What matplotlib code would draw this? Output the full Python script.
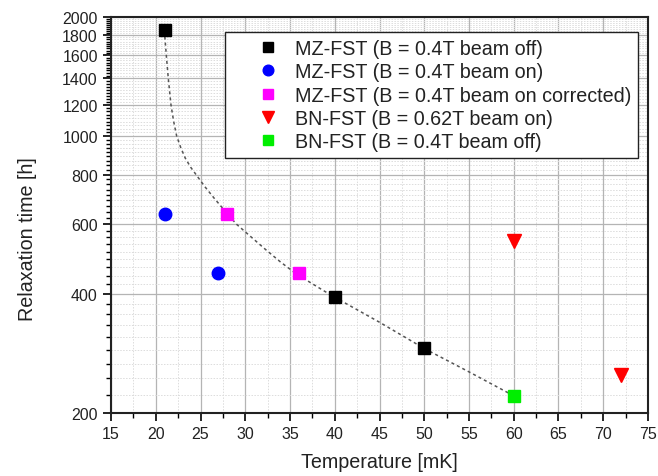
import numpy as np
import matplotlib
matplotlib.use("Agg")
import matplotlib.pyplot as plt
from matplotlib.ticker import FixedLocator, FixedFormatter, NullFormatter

plt.rcParams['font.family'] = ['Liberation Sans', 'DejaVu Sans']

# measured relaxation times
mz_off_T   = [21, 40, 50]
mz_off_tau = [1850, 392, 291]
mz_on_T    = [21, 27]
mz_on_tau  = [636, 451]
mz_cor_T   = [28, 36]
mz_cor_tau = [636, 451]
bn_on_T    = [60, 72]
bn_on_tau  = [545, 249]
bn_off_T   = [60]
bn_off_tau = [221]

# fit curve through the beam-off points
fit_T   = [21.0, 21.0, 21.18, 21.4, 21.7, 22.0, 22.34, 22.8, 23.3, 23.9, 24.5, 25.5,
           26.6, 27.8, 29.0, 30.6, 32.2, 33.9, 35.7, 38.7, 40.0, 45.0, 50.0, 55.0, 60.0]
fit_tau = [1850, 1800, 1600, 1400, 1200, 1090, 1000, 935, 880, 835, 800, 745,
           694, 645, 600, 558, 519, 482, 449, 408, 392, 339, 291, 254, 221]

labels = ["MZ-FST (B = 0.4T beam off)",
          "MZ-FST (B = 0.4T beam on)",
          "MZ-FST (B = 0.4T beam on corrected)",
          "BN-FST (B = 0.62T beam on)",
          "BN-FST (B = 0.4T beam off)"]

y_major = list(range(200, 2001, 200))

fig = plt.figure(figsize=(6.58, 4.77), dpi=100)
ax = fig.add_axes([0.1687, 0.1321, 0.8161, 0.8302])

ax.plot(fit_T, fit_tau, color='#555555', lw=1.1, ls=(0, (2, 2)), zorder=2)
ax.plot(mz_off_T, mz_off_tau, 's', color='black', ms=8, label=labels[0], zorder=3)
ax.plot(mz_on_T, mz_on_tau, 'o', color='#0000ff', ms=9, label=labels[1], zorder=3)
ax.plot(mz_cor_T, mz_cor_tau, 's', color='#ff00ff', ms=8, label=labels[2], zorder=3)
ax.plot(bn_on_T, bn_on_tau, 'v', color='#ff0000', ms=9.5, label=labels[3], zorder=3)
ax.plot(bn_off_T, bn_off_tau, 's', color='#00ee00', ms=8, label=labels[4], zorder=3)

ax.set_yscale('log')
ax.set_xlim(15, 75)
ax.set_ylim(200, 2000)

ax.xaxis.set_major_locator(FixedLocator(np.arange(15, 76, 5)))
ax.xaxis.set_minor_locator(FixedLocator(np.arange(17.5, 75, 5)))
ax.yaxis.set_major_locator(FixedLocator(y_major))
ax.yaxis.set_major_formatter(FixedFormatter([str(v) for v in y_major]))
minors = [a + k * 200 / 9 for a in y_major[:-1] for k in range(1, 9)]
ax.yaxis.set_minor_locator(FixedLocator(minors))
ax.yaxis.set_minor_formatter(NullFormatter())

ax.tick_params(which='major', direction='out', length=6, width=1.2, labelsize=11.5,
               colors='black', labelcolor='#222222', top=False, right=False)
ax.tick_params(which='minor', direction='out', length=3.5, width=1.0, top=False, right=False)

ax.grid(which='major', color='#b4b4b4', lw=0.9, ls='-', zorder=0)
ax.grid(which='minor', color='#dcdcdc', lw=0.7, ls=(0, (1.5, 1.5)), zorder=0)
ax.set_axisbelow(True)

for s in ax.spines.values():
    s.set_linewidth(1.5)
    s.set_color('#222222')

ax.set_xlabel("Temperature [mK]", fontsize=14.2, color='#222222', labelpad=8)
ax.set_ylabel("Relaxation time [h]", fontsize=14.2, color='#222222')
ax.yaxis.set_label_coords(-0.138, 0.442)

leg = ax.legend(loc='upper left', bbox_to_anchor=(0.2123, 0.962), borderaxespad=0,
                fontsize=14.2, numpoints=1, handlelength=3.66, handletextpad=-0.46,
                borderpad=0.35, labelspacing=0.22, fancybox=False, framealpha=1,
                markerscale=0.85)
leg.get_frame().set_edgecolor('#222222')
leg.get_frame().set_linewidth(1.0)
for t in leg.get_texts():
    t.set_color('#222222')

fig.savefig("out.png", dpi=100)
